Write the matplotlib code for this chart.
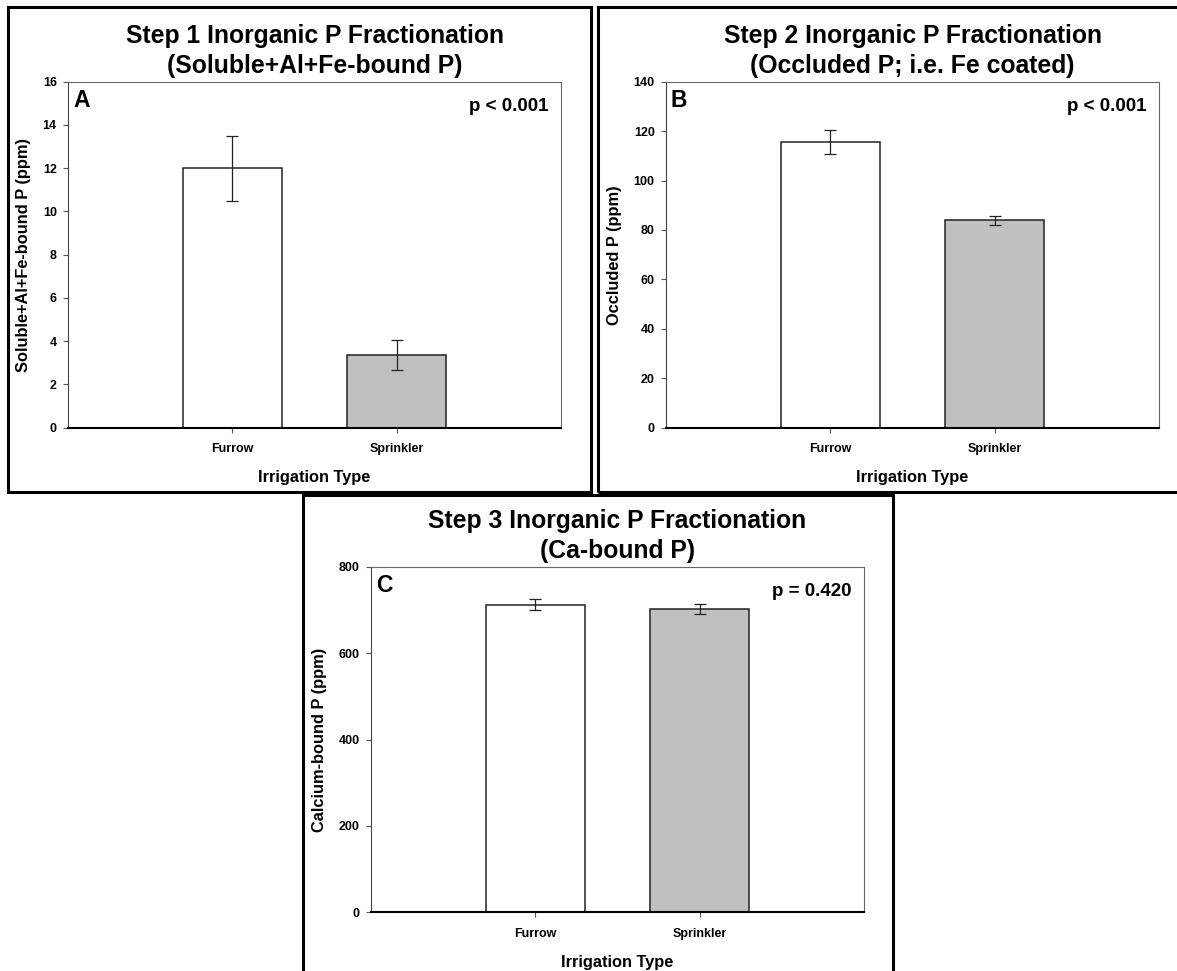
import numpy as np
import matplotlib
matplotlib.use("Agg")
import matplotlib.pyplot as plt
from matplotlib.patches import Rectangle

plt.rcParams['font.family'] = ['Liberation Sans', 'DejaVu Sans']
plt.rcParams['font.weight'] = 'bold'

W, H = 1177, 971

# data
categories = ['Furrow', 'Sprinkler']
step1_means = [12.0, 3.37]
step1_err = [1.5, 0.68]
step2_means = [115.6, 83.9]
step2_err = [5.0, 1.8]
step3_means = [712, 702]
step3_err = [13, 12]

titles = ['Step 1 Inorganic P Fractionation\n(Soluble+Al+Fe-bound P)',
          'Step 2 Inorganic P Fractionation\n(Occluded P; i.e. Fe coated)',
          'Step 3 Inorganic P Fractionation\n(Ca-bound P)']
ylabels = ['Soluble+Al+Fe-bound P (ppm)', 'Occluded P (ppm)', 'Calcium-bound P (ppm)']
letters = ['A', 'B', 'C']
pvalues = ['p < 0.001', 'p < 0.001', 'p = 0.420']
ymax = [16, 140, 800]
ystep = [2, 20, 200]

bar_colors = ['white', '#c0c0c0']


def fx(x):
    return x / W


def fy(y):
    return 1 - y / H


fig = plt.figure(figsize=(W / 100, H / 100), dpi=100)

# panel frames (pixel boxes: left, top, right, bottom)
frames = [(8, 7, 591, 492), (598, 7, 1190, 492), (303, 495, 893, 990)]
for l, t, r, b in frames:
    fig.patches.append(Rectangle((fx(l), fy(b)), fx(r - l), (b - t) / H,
                                 transform=fig.transFigure, fill=False,
                                 edgecolor='black', linewidth=2.2, zorder=0))

# axes boxes in pixels: left, top, right, bottom
boxes = [(68, 81.7, 561, 427.7), (666, 81.7, 1159, 427.7), (371, 566.7, 864, 912.3)]
panels = [(step1_means, step1_err), (step2_means, step2_err), (step3_means, step3_err)]

for i, (l, t, r, b) in enumerate(boxes):
    ax = fig.add_axes([fx(l), fy(b), fx(r - l), (b - t) / H])
    means, errs = panels[i]
    xpos = np.arange(1, len(categories) + 1)
    ax.bar(xpos, means, width=0.6, color=bar_colors, edgecolor='#222222',
           linewidth=1.1, zorder=2)
    ax.errorbar(xpos, means, yerr=errs, fmt='none', ecolor='#222222',
                elinewidth=0.9, capsize=4, capthick=0.9, zorder=3)
    ax.set_xlim(0, 3)
    ax.set_ylim(0, ymax[i])
    ax.set_yticks(np.arange(0, ymax[i] + 1, ystep[i]))
    ax.set_xticks(xpos)
    ax.set_xticklabels(categories)
    ax.tick_params(axis='both', direction='out', length=3.6, width=0.8,
                   color='#555555', labelsize=9)
    ax.tick_params(axis='y', pad=4.5)
    ax.tick_params(axis='x', pad=7.5)
    for lab in ax.get_xticklabels() + ax.get_yticklabels():
        lab.set_fontweight('bold')
    for side in ['top', 'right', 'left']:
        ax.spines[side].set_color('#666666')
        ax.spines[side].set_linewidth(0.8)
    ax.spines['left'].set_color('#444444')
    ax.spines['bottom'].set_color('black')
    ax.spines['bottom'].set_linewidth(1.5)
    ax.set_ylabel(ylabels[i], fontsize=11.8, fontweight='bold', labelpad=8.5)
    ax.set_xlabel('Irrigation Type', fontsize=11.8, fontweight='bold', labelpad=11)

    # two-line title, baselines measured in pixels
    line1, line2 = titles[i].split('\n')
    cx = fx((l + r) / 2)
    fig.text(cx, fy(t - 38.4), line1, ha='center', va='baseline',
             fontsize=17.8, fontweight='bold')
    fig.text(cx, fy(t - 8.4), line2, ha='center', va='baseline',
             fontsize=17.8, fontweight='bold')

    fig.text(fx(l + 5), fy(t + 25), letters[i], ha='left', va='baseline',
             fontsize=16.5, fontweight='bold')
    fig.text(fx(r - 12.5), fy(t + 29), pvalues[i], ha='right', va='baseline',
             fontsize=13.5, fontweight='bold')

fig.savefig('out.png', dpi=100)
